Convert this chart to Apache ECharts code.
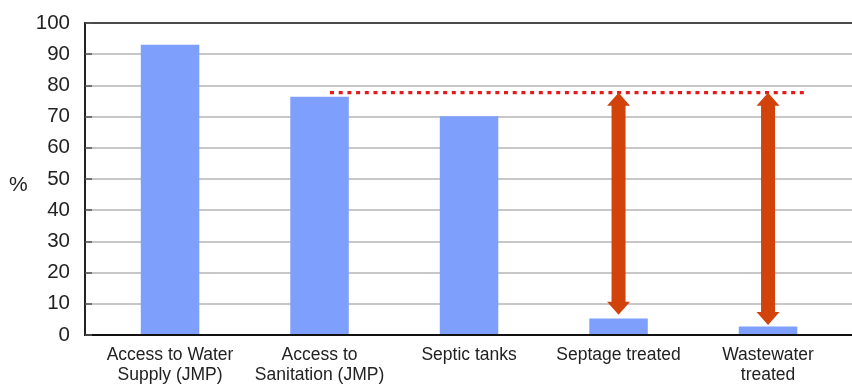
<!DOCTYPE html>
<html>
<head>
<meta charset="utf-8">
<script src="https://cdn.jsdelivr.net/npm/echarts@6/dist/echarts.min.js"></script>
<style>
html,body{margin:0;padding:0;background:#fff;}
#chart{width:852px;height:385px;}
</style>
</head>
<body>
<div id="chart"></div>
<script>
// ---- data ----
const categories = [
  'Access to Water\nSupply (JMP)',
  'Access to\nSanitation (JMP)',
  'Septic tanks',
  'Septage treated',
  'Wastewater\ntreated'
];
const values = [93, 76.3, 70, 5, 2.4];
const yTicks = [0, 10, 20, 30, 40, 50, 60, 70, 80, 90, 100];
// dotted reference level (in % units) and its span along the categories (category index units)
const targetLevel = 77.6;
const targetSpan = [1.07, 4.27];
// gap arrows: [category index, top value, bottom value]
const gapArrows = [
  [3, 77.6, 6.2],
  [4, 77.6, 2.9]
];

const FONT = "'Liberation Sans', Arial, sans-serif";
const chart = echarts.init(document.getElementById('chart'), null, {renderer: 'canvas'});

const option = {
  backgroundColor: '#ffffff',
  animation: false,
  grid: [
    {left: 95.3, right: 9.2, top: 23, bottom: 50, containLabel: false},   // bars
    {left: 85, right: -4, top: 23, bottom: 50, containLabel: false}       // frame / gridlines
  ],
  xAxis: [
    {
      type: 'category', gridIndex: 0, data: categories, boundaryGap: true,
      axisLine: {show: false}, axisTick: {show: false},
      axisLabel: {interval: 0, margin: 11, color: '#222', fontFamily: FONT, fontSize: 17.5, lineHeight: 20}
    },
    {
      type: 'value', gridIndex: 0, position: 'top', min: -0.5, max: 4.5,
      show: false
    },
    {
      type: 'value', gridIndex: 1, position: 'bottom', min: 0, max: 1,
      axisLine: {show: true, lineStyle: {color: '#111', width: 2}},
      axisTick: {show: false}, axisLabel: {show: false}, splitLine: {show: false}
    },
    {
      type: 'value', gridIndex: 1, position: 'top', min: 0, max: 1,
      axisLine: {show: true, lineStyle: {color: '#222', width: 1.5}},
      axisTick: {show: false}, axisLabel: {show: false}, splitLine: {show: false}
    }
  ],
  yAxis: [
    {type: 'value', gridIndex: 0, min: 0, max: 100, show: false},
    {
      type: 'value', gridIndex: 1, min: yTicks[0], max: yTicks[yTicks.length - 1], interval: yTicks[1] - yTicks[0],
      axisLine: {show: true, lineStyle: {color: '#222', width: 2}},
      axisTick: {show: true, inside: true, length: 7, lineStyle: {color: '#555', width: 1.5}},
      axisLabel: {margin: 15, color: '#222', fontFamily: FONT, fontSize: 20.5},
      splitLine: {show: true, lineStyle: {color: '#b4b4b4', width: 1.5}}
    }
  ],
  graphic: [
    {type: 'text', left: 9, top: 175, style: {text: '%', font: "21px 'Liberation Sans', Arial, sans-serif", fill: '#222'}}
  ],
  series: [
    {
      type: 'bar', xAxisIndex: 0, yAxisIndex: 0, data: values,
      barWidth: 58.5, itemStyle: {color: '#7f9ffc'}, z: 3
    },
    {
      type: 'custom', xAxisIndex: 1, yAxisIndex: 0, z: 5,
      data: [[targetSpan[0], targetSpan[1], targetLevel]],
      renderItem: function (params, api) {
        const p1 = api.coord([api.value(0), api.value(2)]);
        const p2 = api.coord([api.value(1), api.value(2)]);
        return {
          type: 'line',
          shape: {x1: p1[0], y1: p1[1], x2: p2[0], y2: p2[1]},
          style: {stroke: '#e41a1c', lineWidth: 3.2, lineDash: [4, 4.7]}
        };
      }
    },
    {
      type: 'custom', xAxisIndex: 1, yAxisIndex: 0, z: 6,
      data: gapArrows,
      renderItem: function (params, api) {
        const top = api.coord([api.value(0), api.value(1)]);
        const bot = api.coord([api.value(0), api.value(2)]);
        const x = top[0];
        const headL = 13, headW = 23, shaftW = 14;
        const ty = top[1], by = bot[1];
        const pts = [
          [x, ty],
          [x + headW / 2, ty + headL],
          [x + shaftW / 2, ty + headL],
          [x + shaftW / 2, by - headL],
          [x + headW / 2, by - headL],
          [x, by],
          [x - headW / 2, by - headL],
          [x - shaftW / 2, by - headL],
          [x - shaftW / 2, ty + headL],
          [x - headW / 2, ty + headL]
        ];
        return {type: 'polygon', shape: {points: pts}, style: {fill: '#d2430c'}};
      }
    }
  ]
};
chart.setOption(option);
</script>
</body>
</html>
